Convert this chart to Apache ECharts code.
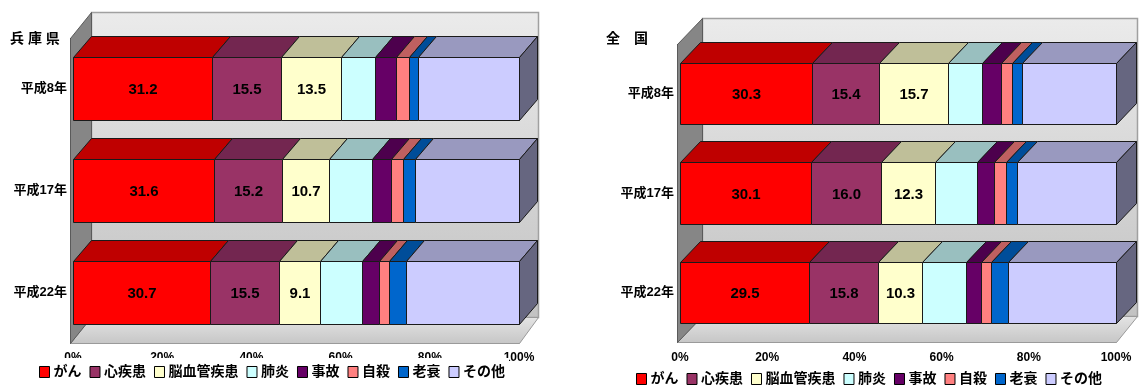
<!DOCTYPE html>
<html>
<head>
<meta charset="utf-8">
<script src="https://cdn.jsdelivr.net/npm/echarts@6/dist/echarts.min.js"></script>
<style>
  html, body { margin: 0; padding: 0; background: #fff; }
  #chart { width: 1140px; height: 385px; }
</style>
</head>
<body>
<div id="chart"></div>
<script>
// Causes of death, share of all deaths (%)
const years = ['平成8年', '平成17年', '平成22年'];
const causes = ['がん', '心疾患', '脳血管疾患', '肺炎', '事故', '自殺', '老衰', 'その他'];

// 兵庫県
const hyogoH8  = [31.2, 15.5, 13.5, 7.6, 4.7, 2.8, 2.1, 22.6];
const hyogoH17 = [31.6, 15.2, 10.7, 9.6, 4.2, 2.7, 2.6, 23.4];
const hyogoH22 = [30.7, 15.5, 9.1, 9.6, 3.7, 2.3, 3.7, 25.4];

// 全国
const zenkokuH8  = [30.3, 15.4, 15.7, 7.8, 4.4, 2.6, 2.2, 21.6];
const zenkokuH17 = [30.1, 16.0, 12.3, 9.8, 3.8, 2.7, 2.6, 22.7];
const zenkokuH22 = [29.5, 15.8, 10.3, 9.9, 3.5, 2.4, 3.8, 24.8];

const panelTitles = ['兵 庫 県', '全　国'];
const tickValues = [0, 20, 40, 60, 80, 100];

// front / top / side shades of each cause
const frontColors = ['#FF0000', '#993366', '#FFFFCC', '#CCFFFF', '#660066', '#FF8080', '#0066CC', '#CCCCFF'];
const topColors   = ['#BF0000', '#732650', '#BFBF99', '#99BFBF', '#4D004D', '#BF6060', '#004D99', '#9999BF'];
const sideColor = '#666680';
const labeledCauses = 3;   // only the first three segments carry their value

const panels = [
  { rows: [hyogoH8, hyogoH17, hyogoH22],
    grid: { left: 73, right: 621, top: 38, bottom: 42 },
    bar: { dx: 18, dy: -21 }, wall: { dx: 21, dy: -26 },
    labelMargin: 9, legend: { left: 37, top: 358, bg: '#fff' } },
  { rows: [zenkokuH8, zenkokuH17, zenkokuH22],
    grid: { left: 680, right: 24, top: 44, bottom: 43 },
    bar: { dx: 20, dy: -21 }, wall: { dx: 25, dy: -26 },
    labelMargin: 10, legend: { left: 634, top: 365, bg: 'transparent' } }
];

const FONT = '"Liberation Sans", "Noto Sans CJK JP", sans-serif';
const EDGE = '#1a1a1a';
const BAR_RATIO = 0.62;
const px = v => Math.round(v) + 0.5;

// Walls and floor of the 3-D plot area
function frameRenderer(panel) {
  return function (params, api) {
    const cs = params.coordSys;
    const w = panel.wall, b = panel.bar;
    const fx = px(cs.x - 3);
    const top = px(cs.y), bot = px(cs.y + cs.height);
    const right = px(api.coord([100, 0])[0]);
    const bx = fx + w.dx, btop = top + w.dy, bbot = bot + w.dy;
    const bright = right + b.dx + 1;
    return {
      type: 'group',
      children: [
        { type: 'rect',
          shape: { x: bx, y: btop, width: bright - bx, height: bbot - btop },
          style: { fill: new echarts.graphic.LinearGradient(0, 0, 0, 1, [
                     { offset: 0, color: '#ebebeb' }, { offset: 1, color: '#c2c2c2' }]),
                   stroke: '#a0a0a0', lineWidth: 1.5 } },
        { type: 'polygon',
          shape: { points: [[fx, bot], [bx, bbot], [bright, bbot], [right, bot]] },
          style: { fill: new echarts.graphic.LinearGradient(0, 0, 0, 1, [
                     { offset: 0, color: '#e4e4e4' }, { offset: 1, color: '#c6c6c6' }]),
                   stroke: '#9a9a9a', lineWidth: 1 } },
        { type: 'polygon',
          shape: { points: [[fx, top], [bx, btop], [bx, bbot], [fx, bot]] },
          style: { fill: '#868686', stroke: '#5a5a5a', lineWidth: 1 } }
      ]
    };
  };
}

// One stacked 3-D segment: front face, top face and (for the last cause) right side
function barRenderer(panel, c) {
  return function (params, api) {
    const s = api.value(0), e = api.value(1), row = api.value(2), v = api.value(3);
    const p0 = api.coord([s, row]);
    const p1 = api.coord([e, row]);
    const h = api.size([0, 1])[1] * BAR_RATIO;
    const top = px(p0[1] - h / 2), bot = px(p0[1] + h / 2);
    const x0 = px(p0[0]), x1 = px(p1[0]);
    const dx = panel.bar.dx, dy = panel.bar.dy;
    const children = [
      { type: 'polygon',
        shape: { points: [[x0, top], [x1, top], [x1 + dx, top + dy], [x0 + dx, top + dy]] },
        style: { fill: topColors[c], stroke: EDGE, lineWidth: 1 } },
      { type: 'rect',
        shape: { x: x0, y: top, width: x1 - x0, height: bot - top },
        style: { fill: frontColors[c], stroke: EDGE, lineWidth: 1 } }
    ];
    if (c === causes.length - 1) {
      children.push({ type: 'polygon',
        shape: { points: [[x1, top], [x1 + dx, top + dy], [x1 + dx, bot + dy], [x1, bot]] },
        style: { fill: sideColor, stroke: EDGE, lineWidth: 1 } });
    }
    if (c < labeledCauses) {
      children.push({ type: 'text', x: (x0 + x1) / 2, y: (top + bot) / 2 + 1,
        style: { text: v.toFixed(1), align: 'center', verticalAlign: 'middle',
                 font: 'bold 15px ' + FONT, fill: '#000' } });
    }
    return { type: 'group', children };
  };
}

const grid = [], xAxis = [], yAxis = [], series = [], legend = [], title = [];

panels.forEach((panel, p) => {
  grid.push(Object.assign({ containLabel: false }, panel.grid));
  xAxis.push({
    gridIndex: p, type: 'value', min: 0, max: 100, interval: 20,
    axisLine: { show: true, lineStyle: { color: '#555', width: 1 } },
    axisTick: { show: true, inside: true, length: 4, lineStyle: { color: '#555' } },
    splitLine: { show: false },
    axisLabel: { margin: panel.labelMargin, color: '#000', fontWeight: 'bold',
                 fontSize: 12, fontFamily: FONT,
                 formatter: v => (tickValues.includes(v) ? v + '%' : '') }
  });
  yAxis.push({
    gridIndex: p, type: 'category', data: years, inverse: true, offset: 3,
    axisLine: { show: true, lineStyle: { color: '#000', width: 1 } },
    axisTick: { show: true, length: 3, lineStyle: { color: '#000' } },
    axisLabel: { margin: 3, color: '#000', fontWeight: 'bold', fontSize: 13, fontFamily: FONT }
  });
  title.push({
    text: panelTitles[p], left: p === 0 ? 10 : 606, top: 32, padding: 0,
    textStyle: { fontSize: 14, fontWeight: 'bold', color: '#000', fontFamily: FONT }
  });
  legend.push({
    data: causes, left: panel.legend.left, top: panel.legend.top,
    orient: 'horizontal', icon: 'rect', itemWidth: 10, itemHeight: 11, itemGap: 8,
    backgroundColor: panel.legend.bg, padding: [7, 4, 3, 2],
    itemStyle: { borderColor: '#000', borderWidth: 1 },
    textStyle: { fontSize: 14, fontWeight: 'bold', color: '#000', fontFamily: FONT, padding: [0, 0, 0, -1] }
  });

  series.push({
    type: 'custom', name: 'frame' + p, xAxisIndex: p, yAxisIndex: p,
    silent: true, z: 1, data: [[0, 0]], renderItem: frameRenderer(panel)
  });

  causes.forEach((cause, c) => {
    const data = panel.rows.map((vals, r) => {
      const start = vals.slice(0, c).reduce((a, b) => a + b, 0);
      return [start, start + vals[c], r, vals[c]];
    });
    series.push({
      type: 'custom', name: cause, xAxisIndex: p, yAxisIndex: p, z: 2,
      itemStyle: { color: frontColors[c] },
      encode: { x: [0, 1], y: 2 },
      data, renderItem: barRenderer(panel, c)
    });
  });
});

const chart = echarts.init(document.getElementById('chart'), null, { renderer: 'canvas' });
chart.setOption({ animation: false, backgroundColor: '#fff', title, legend, grid, xAxis, yAxis, series });
</script>
</body>
</html>
